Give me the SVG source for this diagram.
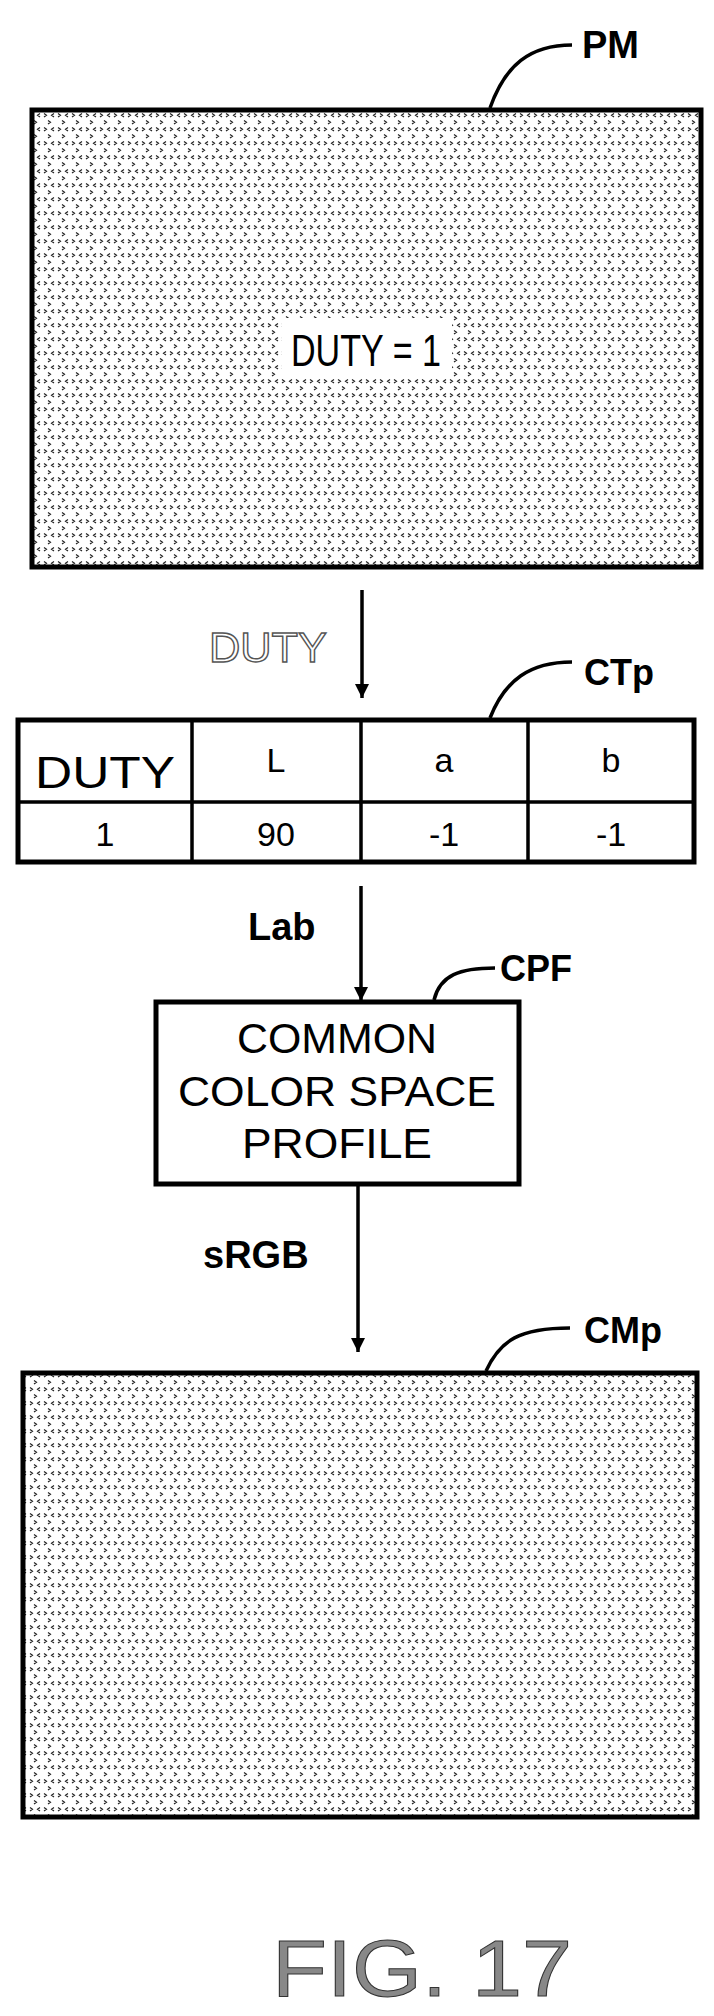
<svg xmlns="http://www.w3.org/2000/svg" width="714" height="2016" viewBox="0 0 714 2016">
<style>
.b{fill:none;stroke:#000;stroke-width:5}
.ln{fill:none;stroke:#000;stroke-width:3.5}
.t{font-family:"Liberation Sans",Arial,sans-serif;fill:#000}
.bd{font-family:"Liberation Sans",Arial,sans-serif;font-weight:bold;fill:#000}
.c{text-anchor:middle}
</style>
<defs>
<pattern id="dots" width="14" height="14" patternUnits="userSpaceOnUse">
<path d="M2,1.5 l2.5,1.8 l-2.5,1.8 M12,1.5 l-2.5,1.8 l2.5,1.8 M6,8.5 l2.5,1.8 l-2.5,1.8" stroke="#222" stroke-width="1.2" fill="none"/>
</pattern>
<marker id="ah" viewBox="0 0 10 10" refX="10" refY="5" markerWidth="16" markerHeight="14" markerUnits="userSpaceOnUse" orient="auto">
<path d="M0,0 L10,5 L0,10 z" fill="#000"/>
</marker>
</defs>
<g id="PM">
<rect x="32" y="110" width="669" height="457" fill="url(#dots)"/>
<rect x="32" y="110" width="669" height="457" class="b"/>
<rect x="282" y="318" width="170" height="60" fill="#fff"/>
<text x="366" y="366" class="t c" font-size="44" textLength="150" lengthAdjust="spacingAndGlyphs">DUTY = 1</text>
<path d="M490,108 C505,65 530,45 572,45" class="ln"/>
<text x="582" y="58" class="bd" font-size="38">PM</text>
</g>
<g id="CTp">
<rect x="18" y="720" width="676" height="142" class="b"/>
<path d="M18,802 H694 M192,720 V862 M361,720 V862 M528,720 V862" class="ln"/>
<text x="105" y="788" class="t c" font-size="44" textLength="140" lengthAdjust="spacingAndGlyphs">DUTY</text>
<text x="276" y="772" class="t c" font-size="34">L</text>
<text x="444" y="772" class="t c" font-size="34">a</text>
<text x="611" y="772" class="t c" font-size="34">b</text>
<text x="105" y="846" class="t c" font-size="34">1</text>
<text x="276" y="846" class="t c" font-size="34">90</text>
<text x="444" y="846" class="t c" font-size="34">-1</text>
<text x="611" y="846" class="t c" font-size="34">-1</text>
<path d="M490,718 C505,680 530,662 572,662" class="ln"/>
<text x="584" y="685" class="bd" font-size="36">CTp</text>
</g>
<g id="CPF">
<rect x="156" y="1002" width="363" height="182" class="b"/>
<text x="337" y="1053" class="t c" font-size="42" textLength="200" lengthAdjust="spacingAndGlyphs">COMMON</text>
<text x="337" y="1106" class="t c" font-size="42" textLength="318" lengthAdjust="spacingAndGlyphs">COLOR SPACE</text>
<text x="337" y="1158" class="t c" font-size="42" textLength="190" lengthAdjust="spacingAndGlyphs">PROFILE</text>
<path d="M434,1000 C440,975 460,968 495,968" class="ln"/>
<text x="500" y="981" class="bd" font-size="36">CPF</text>
</g>
<g id="CMp">
<rect x="23" y="1373" width="674" height="444" fill="url(#dots)"/>
<rect x="23" y="1373" width="674" height="444" class="b"/>
<path d="M486,1371 C500,1340 520,1328 570,1328" class="ln"/>
<text x="584" y="1343" class="bd" font-size="36">CMp</text>
</g>
<g id="connectors">
<line x1="362" y1="590" x2="362" y2="698" class="ln" marker-end="url(#ah)"/>
<line x1="361" y1="886" x2="361" y2="1001" class="ln" marker-end="url(#ah)"/>
<line x1="358" y1="1184" x2="358" y2="1352" class="ln" marker-end="url(#ah)"/>
<text x="209" y="662" class="t" font-size="42" textLength="118" lengthAdjust="spacingAndGlyphs" style="fill:#fff;stroke:#555;stroke-width:1.4">DUTY</text>
<text x="248" y="940" class="bd" font-size="38">Lab</text>
<text x="203" y="1268" class="bd" font-size="38">sRGB</text>
</g>
<text x="272" y="1996" class="t" font-size="80" textLength="300" lengthAdjust="spacingAndGlyphs" style="fill:#888;stroke:#333;stroke-width:1">FIG. 17</text>
</svg>
